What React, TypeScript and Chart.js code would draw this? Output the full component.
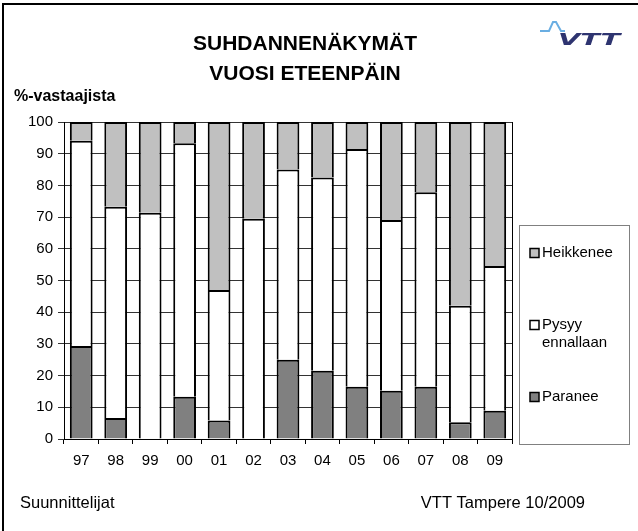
import React, { useEffect, useRef } from 'react';
import { Chart, registerables } from 'chart.js';
Chart.register(...registerables);

const years = ['97', '98', '99', '00', '01', '02', '03', '04', '05', '06', '07', '08', '09'];
const paranee = [29.3, 6.6, 0, 13.3, 5.8, 0, 25, 21.5, 16.5, 15.2, 16.5, 5.3, 8.9];
const pysyy = [64.8, 66.7, 71.4, 80, 41.2, 69.5, 60, 61, 75, 53.9, 61.3, 36.7, 45.7];
const heikkenee = [5.9, 26.7, 28.6, 6.7, 53, 30.5, 15, 17.5, 8.5, 30.9, 22.2, 58, 45.4];
const yTicks = [0, 10, 20, 30, 40, 50, 60, 70, 80, 90, 100];

const titleLines = ['SUHDANNENÄKYMÄT', 'VUOSI ETEENPÄIN'];
const yLabel = '%-vastaajista';
const footerLeft = 'Suunnittelijat';
const footerRight = 'VTT Tampere 10/2009';
const legendItems = [
  { label: ['Heikkenee'], color: '#c0c0c0' },
  { label: ['Pysyy', 'ennallaan'], color: '#ffffff' },
  { label: ['Paranee'], color: '#808080' },
];

const FONT = '"Liberation Sans", Arial, Helvetica, sans-serif';

const decorPlugin = {
  id: 'decor',
  beforeDraw(chart: any) {
    const ctx = chart.ctx;
    ctx.save();
    ctx.fillStyle = '#ffffff';
    ctx.fillRect(0, 0, chart.width, chart.height);
    ctx.restore();
  },
  afterDraw(chart: any) {
    const ctx = chart.ctx;
    const area = chart.chartArea;
    ctx.save();
    // outer border
    ctx.strokeStyle = '#000';
    ctx.lineWidth = 2;
    ctx.beginPath();
    ctx.moveTo(3, 531);
    ctx.lineTo(3, 4);
    ctx.lineTo(638, 4);
    ctx.stroke();

    // plot right border
    ctx.lineWidth = 1;
    ctx.beginPath();
    ctx.moveTo(Math.round(area.right) + 0.5, area.top);
    ctx.lineTo(Math.round(area.right) + 0.5, area.bottom);
    ctx.stroke();

    // titles
    ctx.fillStyle = '#000';
    ctx.textAlign = 'center';
    ctx.textBaseline = 'middle';
    ctx.font = `bold 21px ${FONT}`;
    ctx.fillText(titleLines[0], 305, 44);
    ctx.fillText(titleLines[1], 305, 74);

    // y label
    ctx.textAlign = 'left';
    ctx.font = `bold 16px ${FONT}`;
    ctx.fillText(yLabel, 14, 97);

    // footer
    ctx.font = `16.5px ${FONT}`;
    ctx.fillText(footerLeft, 20, 503);
    ctx.textAlign = 'right';
    ctx.fillText(footerRight, 585, 503);

    // legend
    ctx.strokeStyle = '#808080';
    ctx.lineWidth = 1;
    ctx.strokeRect(519.5, 225.5, 110, 219);
    ctx.font = `15px ${FONT}`;
    ctx.textAlign = 'left';
    const ys = [253, 325, 397];
    legendItems.forEach((it, i) => {
      const y = ys[i];
      ctx.fillStyle = it.color;
      ctx.fillRect(530, y - 4.5, 9, 9);
      ctx.strokeStyle = '#000';
      ctx.lineWidth = 1.5;
      ctx.strokeRect(530, y - 4.5, 9, 9);
      ctx.fillStyle = '#000';
      it.label.forEach((t, j) => {
        ctx.fillText(t, 542, y + j * 18);
      });
    });

    // VTT logo
    ctx.strokeStyle = '#6aaee2';
    ctx.lineWidth = 2;
    ctx.lineJoin = 'miter';
    ctx.beginPath();
    ctx.moveTo(540, 31);
    ctx.lineTo(549, 31);
    ctx.lineTo(553, 22);
    ctx.lineTo(556, 22);
    ctx.lineTo(561, 31);
    ctx.lineTo(565, 31);
    ctx.stroke();
    ctx.fillStyle = '#2e3470';
    ctx.textBaseline = 'alphabetic';
    ctx.font = `italic bold 16px "DejaVu Sans", ${FONT}`;
    ctx.translate(558, 45);
    ctx.scale(1.8, 1);
    ctx.fillText('VTT', 0, 0);
    ctx.restore();
  },
};

export default function App() {
  const ref = useRef<HTMLCanvasElement | null>(null);
  useEffect(() => {
    if (!ref.current) return;
    const chart = new Chart(ref.current, {
      type: 'bar',
      data: {
        labels: years,
        datasets: [
          { label: 'Paranee', data: paranee, backgroundColor: '#808080', borderColor: '#000', borderWidth: 2 },
          { label: 'Pysyy ennallaan', data: pysyy, backgroundColor: '#ffffff', borderColor: '#000', borderWidth: 2 },
          { label: 'Heikkenee', data: heikkenee, backgroundColor: '#c0c0c0', borderColor: '#000', borderWidth: 2 },
        ],
      },
      options: {
        responsive: false,
        animation: false,
        layout: { padding: { left: 0, right: 126, top: 122, bottom: 52 } },
        datasets: { bar: { categoryPercentage: 1, barPercentage: 0.66 } },
        plugins: { legend: { display: false }, title: { display: false }, tooltip: { enabled: false } },
        scales: {
          x: {
            stacked: true,
            grid: { drawOnChartArea: false, drawTicks: true, tickLength: 5, color: '#000', offset: true },
            border: { display: true, color: '#000', width: 1 },
            ticks: { color: '#000', font: { family: FONT, size: 15 }, padding: 8, maxRotation: 0 },
            afterFit: (s: any) => { s.height = 40; },
          },
          y: {
            stacked: true,
            min: 0,
            max: 100,
            afterBuildTicks: (s: any) => { s.ticks = yTicks.map((v) => ({ value: v })); },
            grid: { color: '#333', drawTicks: true, tickLength: 6 },
            border: { display: true, color: '#000', width: 1 },
            ticks: { color: '#000', font: { family: FONT, size: 15 }, padding: 5 },
            afterFit: (s: any) => { s.width = 64; },
          },
        },
      },
      plugins: [decorPlugin],
    });
    return () => chart.destroy();
  }, []);
  return (
    <div style={{ position: 'absolute', left: 0, top: 0 }}>
      <canvas ref={ref} width={638} height={531} style={{ display: 'block', width: 638, height: 531 }} />
    </div>
  );
}
